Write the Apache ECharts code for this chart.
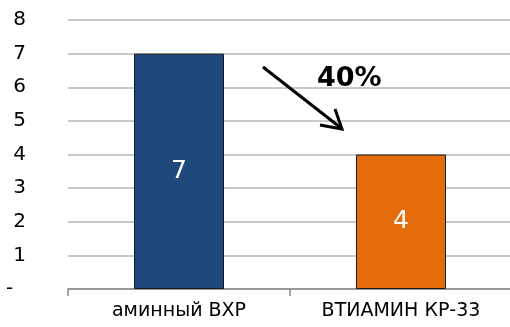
<!DOCTYPE html>
<html><head><meta charset="utf-8">
<script src="https://cdn.jsdelivr.net/npm/echarts@6/dist/echarts.min.js"></script>
<style>html,body{margin:0;padding:0;background:#fff}#c{width:510px;height:327px}</style>
</head><body><div id="c"></div>
<script>
const categories = ['аминный ВХР', 'ВТИАМИН КР-33'];
const values = [7, 4];
const barColors = ['#1F497D', '#E46C0A'];
const yTicks = [0, 1, 2, 3, 4, 5, 6, 7, 8];
const changeLabel = '40%';

const chart = echarts.init(document.getElementById('c'), null, {renderer: 'canvas'});
const FONT = 'DejaVu Sans';
chart.setOption({
  animation: false,
  grid: {left: 68, right: -2, top: 20, bottom: 38, containLabel: false, outerBoundsMode: 'none'},
  xAxis: {
    type: 'category', data: categories,
    axisLine: {lineStyle: {color: '#888888', width: 1.5}},
    axisTick: {show: true, length: 7, lineStyle: {color: '#888888', width: 1.5}},
    axisLabel: {color: '#000', fontFamily: FONT, fontSize: 19, margin: 13}
  },
  yAxis: {
    type: 'value', min: yTicks[0], max: yTicks[yTicks.length - 1], interval: 1,
    axisLine: {show: false}, axisTick: {show: false},
    splitLine: {lineStyle: {color: '#c8c8c8', width: 2}},
    axisLabel: {color: '#000', fontFamily: FONT, fontSize: 20, margin: 42, align: 'right',
      formatter: v => v === 0 ? '-  ' : String(v)}
  },
  series: [{
    type: 'bar', barWidth: 90,
    data: values.map((v, i) => ({value: v, itemStyle: {color: barColors[i]}})),
    itemStyle: {borderColor: '#1a1a1a', borderWidth: 1},
    label: {show: true, position: 'inside', color: '#fff', fontFamily: FONT, fontSize: 25}
  }]
});
// annotation arrow and change label
chart.setOption({
  graphic: [
    {type: 'line', shape: {x1: 263, y1: 67, x2: 341, y2: 128}, style: {stroke: '#000', lineWidth: 3}},
    {type: 'polyline', shape: {points: [[320, 125], [342, 129], [335, 109]]}, style: {stroke: '#000', lineWidth: 3, fill: null}},
    {type: 'text', left: 317, top: 65, style: {text: changeLabel, font: 'bold 27px "DejaVu Sans"', fill: '#000'}}
  ]
});
</script></body></html>
